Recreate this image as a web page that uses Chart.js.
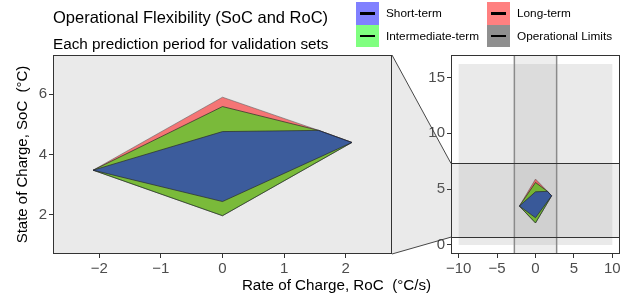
<!DOCTYPE html>
<html>
<head>
<meta charset="utf-8">
<script src="https://cdn.jsdelivr.net/npm/chart.js@4.4.1/dist/chart.umd.min.js"></script>
<style>
  body { margin: 0; background: #fff; font-family: "Liberation Sans", Arial, sans-serif; }
  #wrap { position: relative; width: 632px; height: 298px; overflow: hidden; }
  #wrap canvas { position: absolute; left: 0; top: 0; }
  .title { position: absolute; left: 53px; top: 9px; font-size: 16.5px; line-height: 1; white-space: nowrap; }
  .subtitle { position: absolute; left: 53px; top: 36px; font-size: 15.3px; line-height: 1; white-space: nowrap; }
  .xtitle { position: absolute; left: 336.5px; top: 277px; transform: translateX(-50%); font-size: 15.2px; line-height: 1; white-space: nowrap; }
  #legend { position: absolute; left: 356px; top: 2px; display: grid; grid-template-rows: 22.5px 22.5px; grid-auto-flow: column; grid-template-columns: 131px auto; }
  .item { display: flex; align-items: center; font-size: 11.8px; white-space: nowrap; }
  .key { position: relative; width: 22.5px; height: 22.5px; margin-right: 7.5px; }
  .key::after { content: ''; position: absolute; left: 4px; right: 4px; top: 10px; height: 2.6px; background: #000; }
</style>
</head>
<body>
<div id="wrap">
  <canvas id="zoomChart" width="632" height="298"></canvas>
  <canvas id="fullChart" width="632" height="298"></canvas>
  <div class="title">Operational Flexibility (SoC and RoC)</div>
  <div class="subtitle">Each prediction period for validation sets</div>
  <div id="legend"></div>
  <div class="xtitle">Rate of Charge, RoC&nbsp; (°C/s)</div>
</div>
<script>
// polygon vertices: rate of charge (x) and state of charge (y)
const roc = [-2.1, 0, 1.56, 2.1, 0];
const socShort = [3.48, 4.76, 4.8, 4.4, 2.44];
const socInter = [3.48, 5.59, 4.8, 4.4, 1.97];
const socLong = [3.48, 5.9, 4.8, 4.4, 1.97];

// operational limits rectangle
const limitsRoC = [-10, 10, 10, -10];
const limitsSoC = [0, 0, 16.2, 16.2];

// zoomed region shown in the left panel
const zoomRoC = [-2.75, 2.75];
const zoomSoC = [0.7, 7.3];
const fullRoC = [-11, 11];
const fullSoC = [-0.81, 17.01];

const zoomXTicks = [-2, -1, 0, 1, 2];
const zoomYTicks = [2, 4, 6];
const fullXTicks = [-10, -5, 0, 5, 10];
const fullYTicks = [0, 5, 10, 15];

const labels = ['Short-term', 'Intermediate-term', 'Long-term', 'Operational Limits'];
const keyColors = ['#8080FF', '#80FF80', '#FF8080', '#8F8F8F'];
const fills = ['rgba(0,0,255,0.5)', 'rgba(0,255,0,0.5)', 'rgba(255,0,0,0.5)', 'rgba(127,127,127,0.16)'];
const strokes = ['rgba(40,40,40,0.85)', 'rgba(40,40,40,0.85)', 'rgba(90,90,90,0.7)', 'rgba(0,0,0,0)'];

function polygon(xs, ys) {
    const pts = xs.map((x, i) => ({ x: x, y: ys[i] }));
    pts.push(pts[0]);
    return pts;
}

function makeDatasets() {
    const shapes = [
        polygon(roc, socShort),
        polygon(roc, socInter),
        polygon(roc, socLong),
        polygon(limitsRoC, limitsSoC)
    ];
    // first dataset is drawn on top
    return shapes.map((pts, i) => ({
        label: labels[i],
        data: pts,
        showLine: true,
        fill: 'shape',
        backgroundColor: fills[i],
        borderColor: strokes[i],
        borderWidth: i === 3 ? 0 : 0.8,
        pointRadius: 0,
        tension: 0
    }));
}

function minusSign(v) {
    return String(v).replace('-', '\u2212');
}

function axis(range, ticks, fit) {
    return {
        type: 'linear',
        min: range[0],
        max: range[1],
        afterBuildTicks: s => { s.ticks = ticks.map(v => ({ value: v })); },
        afterFit: fit,
        border: { display: false },
        grid: { drawOnChartArea: false, drawTicks: true, tickLength: 4, color: '#333' },
        ticks: { color: '#4D4D4D', font: { size: 15 }, padding: 2, callback: minusSign }
    };
}

const panelBox = {
    id: 'panelBox',
    afterDraw(chart) {
        const a = chart.chartArea;
        const ctx = chart.ctx;
        ctx.save();
        ctx.strokeStyle = '#333';
        ctx.lineWidth = 1;
        ctx.strokeRect(Math.round(a.left) + 0.5, Math.round(a.top) + 0.5, Math.round(a.width) - 1, Math.round(a.height) - 1);
        ctx.restore();
    }
};

const zoomBands = {
    id: 'zoomBands',
    beforeDatasetsDraw(chart) {
        const { ctx, chartArea: a, scales: { x, y } } = chart;
        const x0 = x.getPixelForValue(zoomRoC[0]), x1 = x.getPixelForValue(zoomRoC[1]);
        const y0 = y.getPixelForValue(zoomSoC[0]), y1 = y.getPixelForValue(zoomSoC[1]);
        ctx.save();
        ctx.fillStyle = 'rgba(0,0,0,0.065)';
        ctx.fillRect(x0, a.top, x1 - x0, a.height);
        ctx.fillRect(a.left, y1, a.width, y0 - y1);
        ctx.restore();
    },
    afterDatasetsDraw(chart) {
        const { ctx, chartArea: a, scales: { x, y } } = chart;
        ctx.save();
        ctx.strokeStyle = '#8a8a8a';
        ctx.lineWidth = 1.5;
        zoomRoC.forEach(v => {
            const px = x.getPixelForValue(v);
            ctx.beginPath(); ctx.moveTo(px, a.top); ctx.lineTo(px, a.bottom); ctx.stroke();
        });
        ctx.strokeStyle = '#333';
        ctx.lineWidth = 1;
        zoomSoC.forEach(v => {
            const py = Math.round(y.getPixelForValue(v)) + 0.5;
            ctx.beginPath(); ctx.moveTo(a.left, py); ctx.lineTo(a.right, py); ctx.stroke();
        });
        ctx.restore();
    }
};

// trapezoid linking the zoom panel to its region in the full panel
const connector = {
    id: 'connector',
    afterDraw(chart) {
        const l = zoomChart.chartArea;
        const a = chart.chartArea;
        const y = chart.scales.y;
        const yTop = y.getPixelForValue(zoomSoC[1]);
        const yBot = y.getPixelForValue(zoomSoC[0]);
        const ctx = chart.ctx;
        ctx.save();
        ctx.beginPath();
        ctx.moveTo(l.right, l.top);
        ctx.lineTo(a.left, yTop);
        ctx.lineTo(a.left, yBot);
        ctx.lineTo(l.right, l.bottom);
        ctx.closePath();
        ctx.fillStyle = 'rgba(127,127,127,0.16)';
        ctx.fill();
        ctx.strokeStyle = '#333';
        ctx.lineWidth = 0.9;
        ctx.beginPath(); ctx.moveTo(l.right, l.top); ctx.lineTo(a.left, yTop); ctx.stroke();
        ctx.beginPath(); ctx.moveTo(l.right, l.bottom); ctx.lineTo(a.left, yBot); ctx.stroke();
        ctx.restore();
    }
};

const baseOptions = {
    responsive: false,
    animation: false,
    plugins: { legend: { display: false }, tooltip: { enabled: false } }
};

const zoomY = axis(zoomSoC, zoomYTicks, s => { s.width = 53; });
zoomY.title = {
    display: true,
    text: 'State of Charge, SoC  (°C)',
    color: '#000',
    font: { size: 15 },
    padding: { top: 14, bottom: 0 }
};

const zoomChart = new Chart(document.getElementById('zoomChart'), {
    type: 'scatter',
    data: { datasets: makeDatasets() },
    options: Object.assign({}, baseOptions, {
        layout: { padding: { left: 0, right: 240, top: 55, bottom: 0 } },
        scales: {
            x: axis(zoomRoC, zoomXTicks, s => { s.height = 44; }),
            y: zoomY
        }
    }),
    plugins: [panelBox]
});

new Chart(document.getElementById('fullChart'), {
    type: 'scatter',
    data: { datasets: makeDatasets() },
    options: Object.assign({}, baseOptions, {
        layout: { padding: { left: 411, right: 12, top: 55, bottom: 0 } },
        scales: {
            x: axis(fullRoC, fullXTicks, s => { s.height = 44; }),
            y: axis(fullSoC, fullYTicks, s => { s.width = 40; })
        }
    }),
    plugins: [zoomBands, panelBox, connector]
});

// legend, two columns like the original
const legend = document.getElementById('legend');
labels.forEach((text, i) => {
    const item = document.createElement('div');
    item.className = 'item';
    const key = document.createElement('span');
    key.className = 'key';
    key.style.background = keyColors[i];
    item.appendChild(key);
    item.appendChild(document.createTextNode(text));
    legend.appendChild(item);
});
</script>
</body>
</html>
